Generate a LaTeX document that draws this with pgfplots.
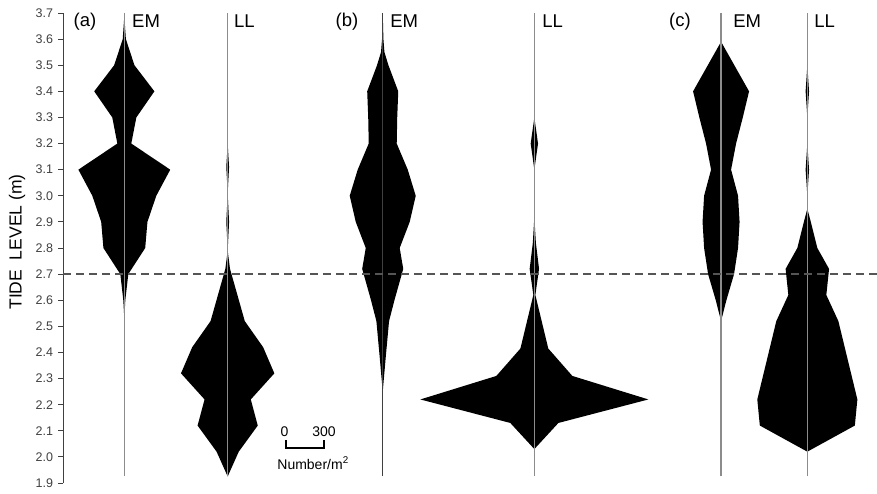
\documentclass[border=0pt]{standalone}
\usepackage{fontspec}
\setmainfont{Liberation Sans}
\usepackage{pgfplots}
\usepackage{pgfplotstable}
\pgfplotsset{compat=1.18}
\usepgfplotslibrary{fillbetween}
\definecolor{tickgray}{HTML}{404040}
\definecolor{linegray}{HTML}{8C8C8C}
\definecolor{dashgray}{HTML}{555555}

% densities (Number/m^2) at each tide level (m)
\pgfplotstableread{
y d
2.53 0
2.6 16
2.7 63
2.8 330
2.9 365
3.0 505
3.1 725
3.2 110
3.3 190
3.4 475
3.5 160
3.6 25
3.67 5
3.7 0
}\aEM
\pgfplotstableread{
y d
1.925 0
2.02 175
2.12 475
2.22 365
2.32 737
2.42 560
2.52 270
2.72 37
2.79 0
2.9 22
3.01 0
3.11 22
3.2 0
}\aLL
\pgfplotstableread{
y d
2.25 0
2.38 47
2.52 100
2.6 185
2.72 324
2.8 268
2.9 426
3.0 521
3.1 395
3.2 221
3.3 229
3.4 245
3.5 90
3.55 27
3.6 11
3.7 0
}\bEM
\pgfplotstableread{
y d
2.03 0
2.13 380
2.22 1800
2.31 600
2.415 220
2.62 16
2.72 74
2.82 24
2.92 0
3.1 0
3.2 58
3.3 0
}\bLL
\pgfplotstableread{
y d
2.52 0
2.6 84
2.7 205
2.8 268
2.9 292
3.0 268
3.1 158
3.2 237
3.3 343
3.4 442
3.59 0
}\cEM
\pgfplotstableread{
y d
2.02 0
2.12 750
2.22 790
2.52 490
2.62 300
2.72 343
2.8 158
2.9 55
2.95 0
3.0 0
3.1 27
3.2 0
3.3 0
3.4 27
3.5 0
}\cLL

\begin{document}
\begin{tikzpicture}
\begin{axis}[
  at={(0,0)}, anchor=south west,
  scale only axis, width=814pt, height=470pt,
  xmin=0, xmax=6426, ymin=1.9, ymax=3.7,
  clip=false,
  hide x axis,
  axis y line*=left,
  y axis line style={tickgray, line width=0.9pt},
  ytick={1.9,2.0,2.1,2.2,2.3,2.4,2.5,2.6,2.7,2.8,2.9,3.0,3.1,3.2,3.3,3.4,3.5,3.6,3.7},
  tick align=outside,
  major tick length=4.5pt,
  ytick style={tickgray, line width=0.8pt},
  yticklabel style={font=\fontsize{12.5}{14}\selectfont, text=tickgray, xshift=-2pt, /pgf/number format/.cd, fixed, fixed zerofill, precision=1, assume math mode=true},
]
% centre lines
\addplot[linegray, line width=1.3pt] coordinates {(484,1.925) (484,3.7)};
\addplot[linegray, line width=1.3pt] coordinates {(1300,1.925) (1300,3.7)};
\addplot[black!75, line width=1.3pt] coordinates {(2524,1.925) (2524,3.7)};
\addplot[linegray, line width=1.3pt] coordinates {(3721,1.925) (3721,3.7)};
\addplot[linegray, line width=1.3pt] coordinates {(5195,1.925) (5195,3.7)};
\addplot[linegray, line width=1.3pt] coordinates {(5876,1.925) (5876,3.7)};
% dashed reference line
\addplot[dashgray, line width=1.3pt, dash pattern=on 8pt off 5pt] coordinates {(0,2.7) (6426,2.7)};
% kites
\addplot[draw=none, name path=aEMr] table[x expr=484+\thisrow{d}/2, y=y] {\aEM};
\addplot[draw=none, name path=aEMl] table[x expr=484-\thisrow{d}/2, y=y] {\aEM};
\addplot[black] fill between[of=aEMr and aEMl];
\addplot[draw=none, name path=aLLr] table[x expr=1300+\thisrow{d}/2, y=y] {\aLL};
\addplot[draw=none, name path=aLLl] table[x expr=1300-\thisrow{d}/2, y=y] {\aLL};
\addplot[black] fill between[of=aLLr and aLLl];
\addplot[draw=none, name path=bEMr] table[x expr=2524+\thisrow{d}/2, y=y] {\bEM};
\addplot[draw=none, name path=bEMl] table[x expr=2524-\thisrow{d}/2, y=y] {\bEM};
\addplot[black] fill between[of=bEMr and bEMl];
\addplot[draw=none, name path=bLLr] table[x expr=3721+\thisrow{d}/2, y=y] {\bLL};
\addplot[draw=none, name path=bLLl] table[x expr=3721-\thisrow{d}/2, y=y] {\bLL};
\addplot[black] fill between[of=bLLr and bLLl];
\addplot[draw=none, name path=cEMr] table[x expr=5195+\thisrow{d}/2, y=y] {\cEM};
\addplot[draw=none, name path=cEMl] table[x expr=5195-\thisrow{d}/2, y=y] {\cEM};
\addplot[black] fill between[of=cEMr and cEMl];
\addplot[draw=none, name path=cLLr] table[x expr=5876+\thisrow{d}/2, y=y] {\cLL};
\addplot[draw=none, name path=cLLl] table[x expr=5876-\thisrow{d}/2, y=y] {\cLL};
\addplot[black] fill between[of=cLLr and cLLl];
% scale bar
\addplot[black, line width=1.8pt] coordinates {(1761,2.064) (1761,2.0345) (2061,2.0345) (2061,2.064)};
\node[font=\fontsize{14}{16}\selectfont] at (axis cs:1749,2.095) {0};
\node[font=\fontsize{14}{16}\selectfont] at (axis cs:2061,2.095) {300};
\node[font=\fontsize{14}{16}\selectfont] at (axis cs:1974,1.976) {Number/m\textsuperscript{2}};
% panel labels
\begin{scope}[every node/.style={font=\fontsize{18.5}{20}\selectfont}]
\node at (axis cs:174,3.666) {(a)};
\node[anchor=west, inner sep=0pt] at (axis cs:545,3.669) {EM};
\node[anchor=west, inner sep=0pt] at (axis cs:1350,3.669) {LL};
\node at (axis cs:2242,3.666) {(b)};
\node[anchor=west, inner sep=0pt] at (axis cs:2582,3.669) {EM};
\node[anchor=west, inner sep=0pt] at (axis cs:3782,3.669) {LL};
\node at (axis cs:4871,3.666) {(c)};
\node[anchor=west, inner sep=0pt] at (axis cs:5290,3.669) {EM};
\node[anchor=west, inner sep=0pt] at (axis cs:5929,3.669) {LL};
\end{scope}
\node[rotate=90, font=\fontsize{17.5}{20}\selectfont] at ([xshift=-46pt]axis cs:0,2.823) {TIDE\ \ LEVEL (m)};
\end{axis}
\pgfresetboundingbox
\path (-63pt,-10pt) rectangle (814pt,483pt);
\end{tikzpicture}
\end{document}
